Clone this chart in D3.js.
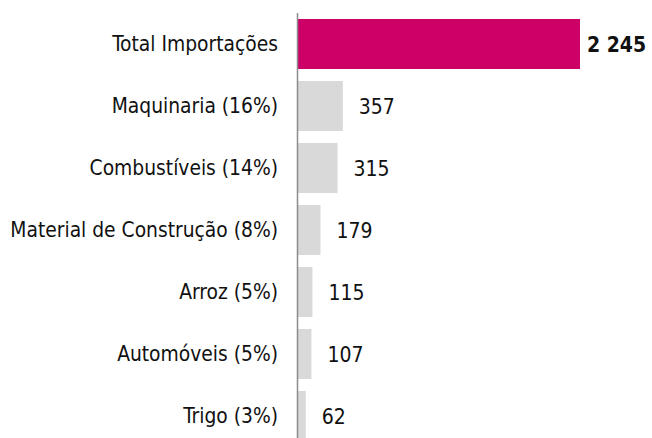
<!DOCTYPE html>
<html><head><meta charset="utf-8">
<script src="https://cdn.jsdelivr.net/npm/d3@7/dist/d3.min.js"></script>
<style>
html,body{margin:0;padding:0;background:#fff;}
svg{display:block;}
</style></head>
<body>
<svg id="chart" width="652" height="438"></svg>
<script>
const categories = ["Total Importações","Maquinaria (16%)","Combustíveis (14%)","Material de Construção (8%)","Arroz (5%)","Automóveis (5%)","Trigo (3%)"];
const values = [2245, 357, 315, 179, 115, 107, 62];
const valueLabels = ["2 245","357","315","179","115","107","62"];

const svg = d3.select("#chart");
const font = "'DejaVu Sans Condensed','DejaVu Sans',sans-serif";
const x = d3.scaleLinear().domain([0, d3.max(values)]).range([298, 580]);
const y = d3.scaleBand().domain(categories).range([13, 13 + categories.length * 62])
  .paddingInner(12/62).paddingOuter(6/62);

const data = categories.map((c,i)=>({c, v: values[i], l: valueLabels[i], i}));

svg.selectAll("rect.bar").data(data).enter().append("rect")
  .attr("class","bar")
  .attr("x", x(0))
  .attr("y", d=>y(d.c))
  .attr("width", d=>x(d.v)-x(0))
  .attr("height", y.bandwidth())
  .attr("fill", d=>d.i===0 ? "#CC0066" : "#D9D9D9");

svg.append("line")
  .attr("x1", 297.5).attr("x2", 297.5)
  .attr("y1", 13).attr("y2", 438)
  .attr("stroke", "#8c8c8c").attr("stroke-width", 1.5);

svg.selectAll("text.cat").data(data).enter().append("text")
  .attr("class","cat")
  .attr("x", 278)
  .attr("y", d=>y(d.c)+y.bandwidth()/2)
  .attr("dy","0.36em")
  .attr("text-anchor","end")
  .style("font-family", font)
  .style("font-size","20.8px")
  .attr("fill","#111")
  .text(d=>d.c);

svg.selectAll("text.val").data(data).enter().append("text")
  .attr("class","val")
  .attr("x", d=>x(d.v) + (d.i===0 ? 7 : 16))
  .attr("y", d=>y(d.c)+y.bandwidth()/2)
  .attr("dy","0.36em")
  .style("font-family", font)
  .style("font-size","21px")
  .style("font-weight", d=>d.i===0 ? "bold" : "normal")
  .attr("fill","#111")
  .text(d=>d.l);
</script>
</body></html>
